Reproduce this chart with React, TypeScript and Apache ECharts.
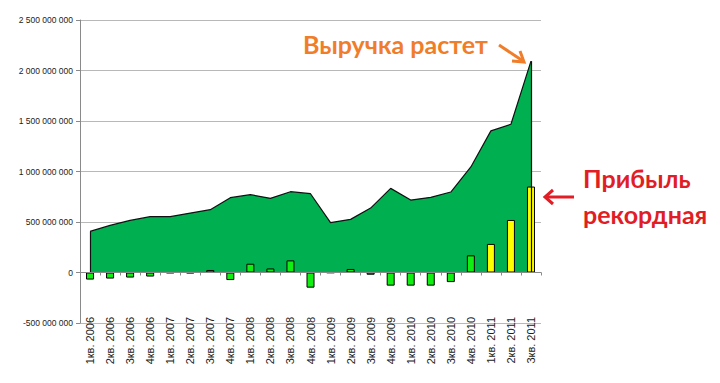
import React, { useEffect, useRef } from "react";
import * as echarts from "echarts";

const categories = [
  "1кв. 2006", "2кв. 2006", "3кв. 2006", "4кв. 2006",
  "1кв. 2007", "2кв. 2007", "3кв. 2007", "4кв. 2007",
  "1кв. 2008", "2кв. 2008", "3кв. 2008", "4кв. 2008",
  "1кв. 2009", "2кв. 2009", "3кв. 2009", "4кв. 2009",
  "1кв. 2010", "2кв. 2010", "3кв. 2010", "4кв. 2010",
  "1кв. 2011", "2кв. 2011", "3кв. 2011",
];

const revenue = [
  407e6, 466e6, 516e6, 553e6,
  553e6, 588e6, 622e6, 741e6,
  771e6, 734e6, 800e6, 780e6,
  493e6, 526e6, 638e6, 833e6,
  717e6, 744e6, 797e6, 1045e6,
  1402e6, 1468e6, 2093e6,
];

const profit = [
  -70e6, -60e6, -50e6, -40e6,
  -6e6, -8e6, 25e6, -75e6,
  87e6, 40e6, 120e6, -150e6,
  -4e6, 35e6, -22e6, -130e6,
  -130e6, -130e6, -95e6, 170e6,
  283e6, 520e6, 851e6,
];

// quarters where the profit bar is highlighted (record)
const highlighted = [false, false, false, false, false, false, false, false,
  false, false, false, false, false, false, false, false,
  false, false, false, false, true, true, true];

const yTicks = { min: -500e6, max: 2500e6, interval: 500e6 };

const annotationRevenue = "Выручка растет";
const annotationProfit = ["Прибыль", "рекордная"];

function fmt(v: number): string {
  const s = Math.abs(v).toFixed(0).replace(/\B(?=(\d{3})+(?!\d))/g, " ");
  return (v < 0 ? "-" : "") + s;
}

export default function App() {
  const ref = useRef<HTMLDivElement>(null);
  useEffect(() => {
    if (!ref.current) return;
    const chart = echarts.init(ref.current, undefined, { renderer: "svg" });
    const font = "'Liberation Sans', Arial, sans-serif";
    const annFont = "Lato, 'Open Sans', sans-serif";
    chart.setOption({
      animation: false,
      backgroundColor: "#ffffff",
      grid: { left: 80, right: 179, top: 20, bottom: 60, containLabel: false },
      xAxis: [
        {
          type: "category",
          data: categories,
          boundaryGap: true,
          axisLine: { show: true, onZero: true, lineStyle: { color: "#8a8a8a", width: 1 } },
          axisTick: { show: true, interval: 0, length: 3, lineStyle: { color: "#8a8a8a" } },
          axisLabel: { show: false },
          splitLine: { show: false },
          z: 5,
        },
        {
          type: "category",
          data: categories,
          position: "bottom",
          boundaryGap: true,
          axisLine: { show: false, onZero: false },
          axisTick: { show: false },
          axisLabel: {
            show: true,
            interval: 0,
            rotate: 90,
            margin: -6,
            fontSize: 11,
            color: "#222",
            fontFamily: font,
          },
          splitLine: { show: false },
        },
      ],
      yAxis: {
        type: "value",
        min: yTicks.min,
        max: yTicks.max,
        interval: yTicks.interval,
        axisLine: { show: true, lineStyle: { color: "#8a8a8a", width: 1 } },
        axisTick: { show: true, length: 4, lineStyle: { color: "#8a8a8a" } },
        axisLabel: { fontSize: 8.5, color: "#222", fontFamily: font, margin: 7, formatter: (v: number) => fmt(v) },
        splitLine: { show: true, lineStyle: { color: "#b8b8b8", width: 1 } },
      },
      series: [
        {
          type: "line",
          data: revenue,
          xAxisIndex: 0,
          symbol: "none",
          lineStyle: { color: "#111", width: 1.2 },
          areaStyle: { color: "#00b050", opacity: 1 },
          z: 2,
          markLine: {
            silent: true,
            symbol: "none",
            label: { show: false },
            lineStyle: { color: "#111", width: 1.2, type: "solid" },
            data: [
              [{ coord: [0, 0] }, { coord: [0, revenue[0]] }],
              [{ coord: [categories.length - 1, 0] }, { coord: [categories.length - 1, revenue[revenue.length - 1]] }],
            ],
          },
        },
        {
          type: "bar",
          xAxisIndex: 0,
          barWidth: 8,
          z: 3,
          data: profit.map((v, i) => ({
            value: v,
            itemStyle: {
              color: highlighted[i] ? "#ffff00" : "#11ee11",
              borderColor: "#000",
              borderWidth: 1,
            },
          })),
        },
      ],
      graphic: [
        {
          type: "text",
          left: 303,
          top: 31,
          style: { text: annotationRevenue, fill: "#f07d2a", font: `bold 25px ${annFont}` },
        },
        {
          type: "line",
          shape: { x1: 499, y1: 45, x2: 523, y2: 61 },
          style: { stroke: "#f07d2a", lineWidth: 3 },
        },
        {
          type: "polyline",
          shape: { points: [[512, 61], [524, 62], [520, 51]] },
          style: { stroke: "#f07d2a", lineWidth: 3, fill: null },
        },
        {
          type: "text",
          left: 583,
          top: 165,
          style: { text: annotationProfit[0], fill: "#e11d25", font: `bold 25px ${annFont}` },
        },
        {
          type: "text",
          left: 583,
          top: 201,
          style: { text: annotationProfit[1], fill: "#e11d25", font: `bold 25px ${annFont}` },
        },
        {
          type: "line",
          shape: { x1: 574, y1: 197, x2: 545, y2: 197 },
          style: { stroke: "#e11d25", lineWidth: 3 },
        },
        {
          type: "polyline",
          shape: { points: [[553, 190], [545, 197], [553, 204]] },
          style: { stroke: "#e11d25", lineWidth: 3, fill: null },
        },
      ],
    });
    return () => chart.dispose();
  }, []);
  return <div ref={ref} style={{ width: 720, height: 383, position: "absolute", left: 0, top: 0 }} />;
}
